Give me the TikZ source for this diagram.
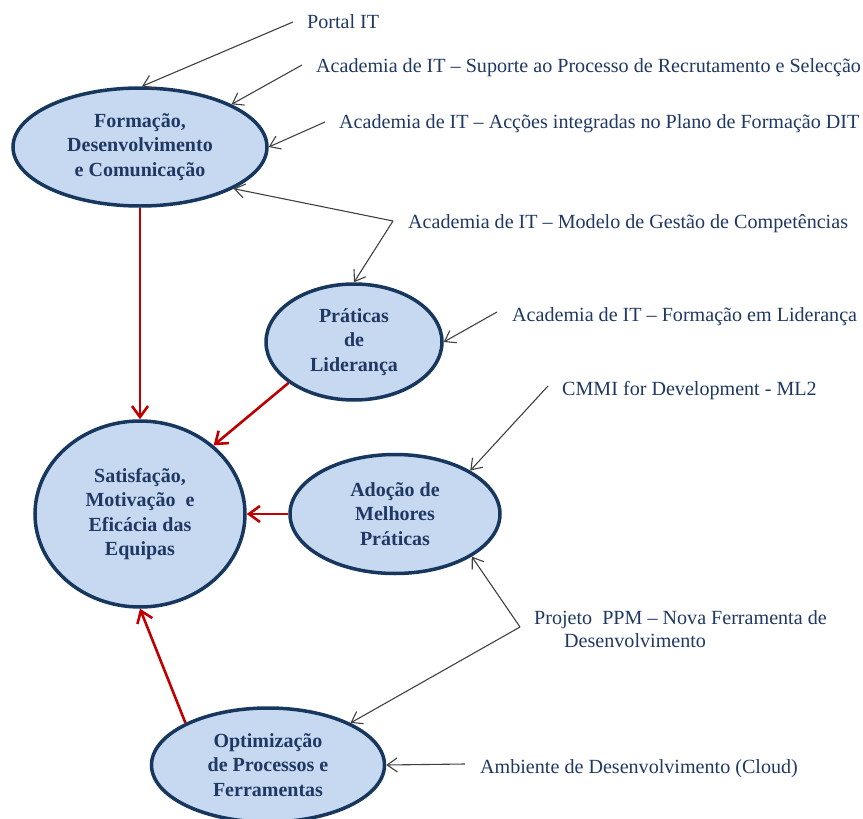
\documentclass[tikz,border=0pt]{standalone}
\usepackage{fontspec}
\setmainfont{Liberation Serif}
\usetikzlibrary{arrows.meta,shapes.geometric}
\definecolor{navy}{RGB}{23,55,94}
\definecolor{txtblue}{RGB}{31,56,100}
\definecolor{fillblue}{RGB}{198,217,241}
\definecolor{darkred}{RGB}{192,0,0}
\definecolor{linegray}{RGB}{64,64,64}
\begin{document}
\begin{tikzpicture}[x=1pt,y=-1pt,
  goal/.style={ellipse, draw=navy, fill=fillblue, line width=3.5pt, inner sep=0pt,
    text=txtblue, align=center, font=\bfseries\fontsize{20}{24.5}\selectfont},
  lbl/.style={anchor=base west, inner sep=0pt, text=txtblue, font=\fontsize{20.1}{24}\selectfont},
  feed/.style={draw=linegray, line width=1.1pt, -{Straight Barb[length=10pt,width=14pt]}},
  impact/.style={draw=darkred, line width=2.6pt, -{Straight Barb[length=11pt,width=16pt]}}]
\clip (0,0) rectangle (863,819);
% goals
\node[goal, minimum width=254pt, minimum height=118pt] (F) at (140,147) {Formação,\\Desenvolvimento\\e Comunicação};
\node[goal, minimum width=176pt, minimum height=116pt] (P) at (354,342) {Práticas\\de\\Liderança};
\node[goal, minimum width=210pt, minimum height=186pt] (S) at (140,514) {Satisfação,\\Motivação\ \ e\\Eficácia das\\Equipas};
\node[goal, minimum width=210pt, minimum height=119pt] (A) at (395,514) {Adoção de\\Melhores\\Práticas};
\node[goal, minimum width=233pt, minimum height=114pt] (O) at (268,765) {Optimização\\de Processos e\\Ferramentas};
% labels
\node[lbl] (l1) at (307,28) {Portal IT};
\node[lbl] (l2) at (316,72) {Academia de IT – Suporte ao Processo de Recrutamento e Selecção};
\node[lbl] (l3) at (339,128) {Academia de IT – Acções integradas no Plano de Formação DIT};
\node[lbl] (l4) at (408,228) {Academia de IT – Modelo de Gestão de Competências};
\node[lbl] (l5) at (512,321) {Academia de IT – Formação em Liderança};
\node[lbl] (l6) at (562,395) {CMMI for Development - ML2};
\node[lbl] (l7a) at (534,624) {Projeto\ \ PPM – Nova Ferramenta de};
\node[lbl] (l7b) at (564,647) {Desenvolvimento};
\node[lbl] (l8) at (480,773) {Ambiente de Desenvolvimento (Cloud)};
% connector ends
\coordinate (c1) at (293,22);
\coordinate (c2) at (302,65);
\coordinate (c3) at (325,122);
\coordinate (c4) at (393,221);
\coordinate (c5) at (497,312);
\coordinate (c6) at (548,386);
\coordinate (c7) at (520,627);
\coordinate (c8) at (465,764);
% feeding arrows
\draw[feed] (c1) -- (F.88);
\draw[feed] (c2) -- (F.25);
\draw[feed] (c3) -- (F.east);
\draw[feed] (c4) -- (F.-24);
\draw[feed] (c4) -- (P.north);
\draw[feed] (c5) -- (P.east);
\draw[feed] (c6) -- (A.30);
\draw[feed] (c7) -- (A.-29);
\draw[feed] (c7) -- (O.27);
\draw[feed] (c8) -- (O.east);
% impact arrows
\draw[impact] (F.south) -- (S.north);
\draw[impact] (P.212) -- (S.43);
\draw[impact] (A.west) -- (S.east);
\draw[impact] (O.153) -- (S.south);
\end{tikzpicture}
\end{document}
